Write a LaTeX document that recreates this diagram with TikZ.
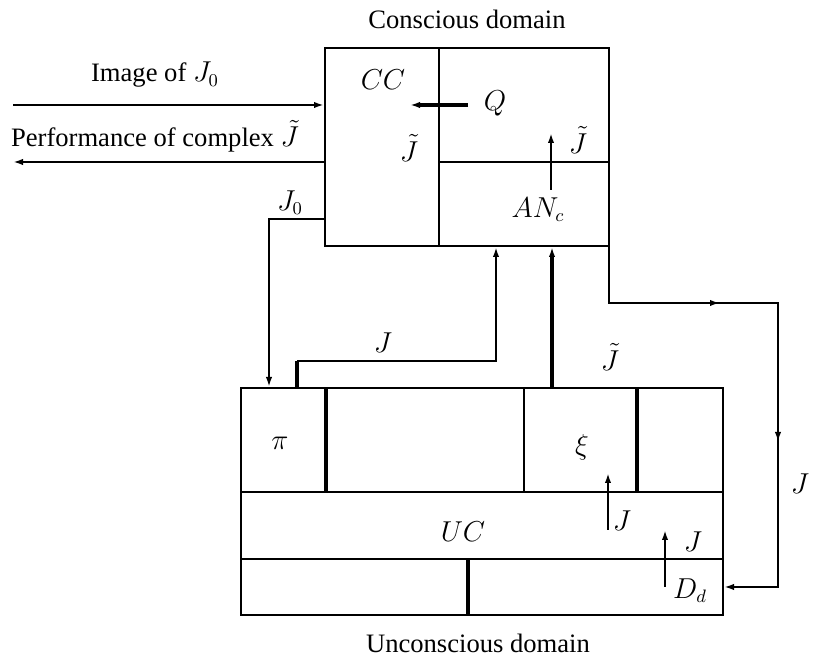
\documentclass[tikz,border=0pt]{standalone}
\usepackage{fontspec}
\setmainfont{Liberation Serif}
\usetikzlibrary{arrows.meta,fit}
\begin{document}
\begin{tikzpicture}[x=0.5pt,y=-0.5pt,
  lw/.style={line width=1.0pt},
  lwb/.style={line width=1.7pt},
  arr/.style={-{Latex[length=5pt,width=3.2pt]}},
  lbl/.style={font=\fontsize{13.3}{16}\selectfont, inner sep=0pt}
]
\useasboundingbox (0,0) rectangle (815,662);
% box corners
\coordinate (cdA) at (325,48);
\coordinate (cdB) at (609,246);
\coordinate (udA) at (241,388);
\coordinate (udB) at (723,615);
\node[fit=(cdA)(cdB), inner sep=0pt, draw, lw] (cd) {};
\node[fit=(udA)(udB), inner sep=0pt, draw, lw] (ud) {};
% top box dividers
\draw[lw] (439,48) -- (439,246);
\draw[lw] (439,162) -- (609,162);
% bottom box dividers
\draw[lwb] (326,388) -- (326,492);
\draw[lw] (524,388) -- (524,492);
\draw[lwb] (637,388) -- (637,492);
\draw[lw] (241,492) -- (723,492);
\draw[lw] (241,559) -- (723,559);
\draw[lwb] (468,559) -- (468,615);
% external arrows
\coordinate (imgS) at (13,105);
\coordinate (perfE) at (13,162);
\draw[lw,arr] (imgS) -- (imgS -| cd.west);
\draw[lw,arr] (perfE -| cd.west) -- (perfE);
% J0 path
\coordinate (j0a) at (325,219);
\coordinate (j0b) at (269,219);
\draw[lw,arr] (j0a) -- (j0b) -- (j0b |- ud.north);
% J path
\coordinate (jA) at (297,388);
\coordinate (jB) at (297,361);
\coordinate (jC) at (496,361);
\draw[lwb] (jA) -- (jB);
\draw[lw,arr] (jB) -- (jC) -- (jC |- cd.south);
% thick Jtilde
\coordinate (xiUp) at (552,388);
\draw[lwb,arr] (xiUp) -- (xiUp |- cd.south);
% right loop
\coordinate (rA) at (609,246);
\coordinate (rB) at (609,303);
\coordinate (rC) at (778,303);
\coordinate (rD) at (778,587);
\coordinate (rMidH) at (720,303);
\coordinate (rMidV) at (778,442);
\draw[lw,arr] (rA) -- (rB) -- (rC) -- (rD) -- (rD -| ud.east);
\draw[lw,arr] (rB) -- (rMidH);
\draw[lw,arr] (rC) -- (rMidV);
% inner small arrows
\coordinate (s1a) at (608,530); \coordinate (s1b) at (608,473);
\coordinate (s2a) at (665,587); \coordinate (s2b) at (665,530);
\coordinate (s3a) at (551,190); \coordinate (s3b) at (551,133);
\coordinate (qa) at (468,105); \coordinate (qb) at (410,105);
\draw[lw,arr] (s1a) -- (s1b);
\draw[lw,arr] (s2a) -- (s2b);
\draw[lw,arr] (s3a) -- (s3b);
\draw[lwb,arr] (qa) -- (qb);
% labels
\node[lbl] (tcd) at (467,19) {Conscious domain};
\node[lbl] (tud) at (478,643) {Unconscious domain};
\node[lbl] (limg) at (155,75) {Image of $J_0$};
\node[lbl] (lperf) at (155,136) {Performance of complex $\tilde J$};
\node[lbl] (lj0) at (290,203) {$J_0$};
\node[lbl] (lcc) at (383,80) {$CC$};
\node[lbl] (lq) at (495,103) {$Q$};
\node[lbl] (ljt1) at (409,148) {$\tilde J$};
\node[lbl] (ljt2) at (578,140) {$\tilde J$};
\node[lbl] (lan) at (538,210) {$AN_c$};
\node[lbl] (lj1) at (383,343) {$J$};
\node[lbl] (ljt3) at (610,357) {$\tilde J$};
\node[lbl] (lpi) at (280,443) {$\pi$};
\node[lbl] (lxi) at (582,447) {$\xi$};
\node[lbl] (lj2) at (622,521) {$J$};
\node[lbl] (lj3) at (693,542) {$J$};
\node[lbl] (luc) at (463,532) {$UC$};
\node[lbl] (ldd) at (690,591) {$D_d$};
\node[lbl] (lj4) at (800,484) {$J$};
\end{tikzpicture}
\end{document}
